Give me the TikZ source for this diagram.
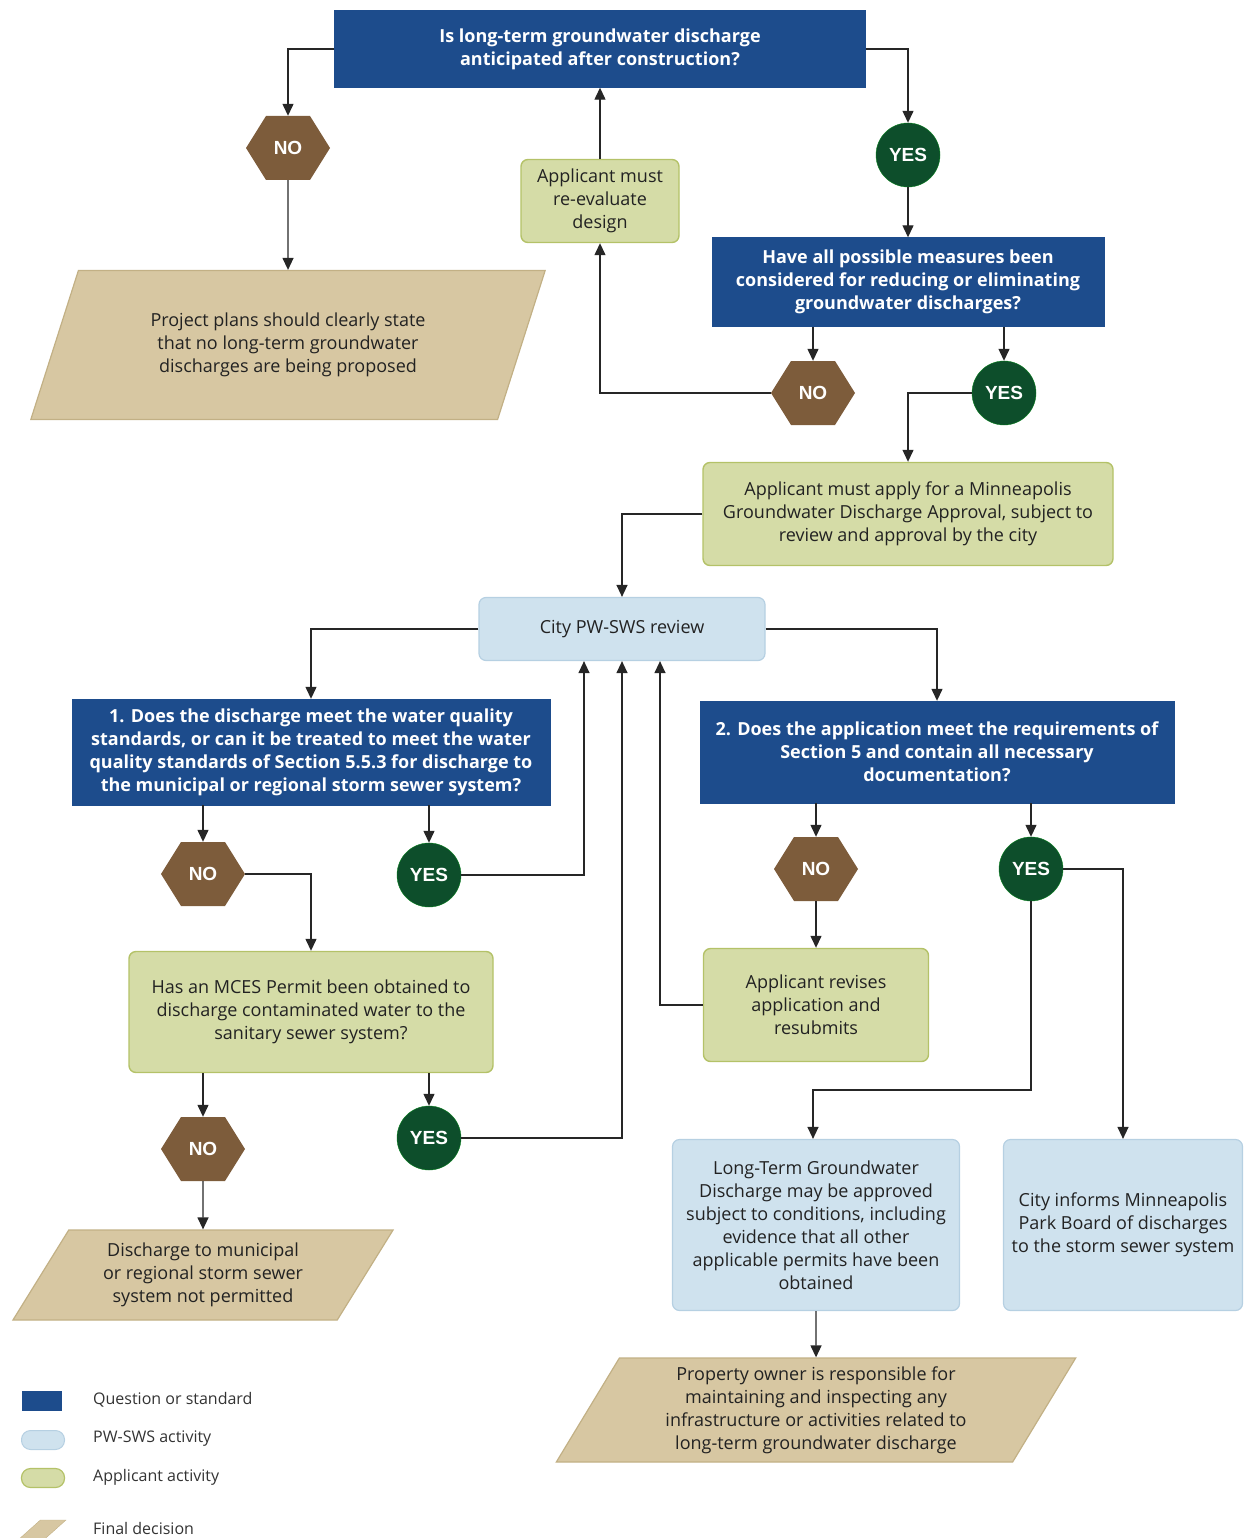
\documentclass[tikz,border=0pt]{standalone}
\usepackage{fontspec}
\setmainfont{Open Sans}
\newfontfamily\yesnofont{Liberation Sans}
\usetikzlibrary{shapes.geometric,shapes.symbols,arrows.meta}
\definecolor{qblue}{HTML}{1D4C8C}
\definecolor{swsfill}{HTML}{CFE2EE}
\definecolor{swsline}{HTML}{B6D0E2}
\definecolor{appfill}{HTML}{D5DCA7}
\definecolor{appline}{HTML}{B4C268}
\definecolor{tanfill}{HTML}{D7C7A2}
\definecolor{tanline}{HTML}{C2B085}
\definecolor{nobrown}{HTML}{7D5C3B}
\definecolor{yesgreen}{HTML}{0D4E2B}
\definecolor{inktext}{HTML}{222222}
\tikzset{
>={Triangle[length=12pt,width=11pt]}, % all arrows with filled triangle tips
flow/.style={->,line width=1.3pt,draw=black!85},
box text/.style={align=center,inner sep=0pt,text=inktext,font=\fontsize{18}{23}\selectfont},
question box/.style={box text,rectangle,draw=qblue,fill=qblue,text=white,font=\fontsize{18}{23}\selectfont\bfseries},
sws box/.style={box text,rectangle,rounded corners=7pt,draw=swsline,line width=1.2pt,fill=swsfill},
applicant box/.style={box text,rectangle,rounded corners=7pt,draw=appline,line width=1.4pt,fill=appfill},
final decision/.style={box text,trapezium,trapezium stretches=true,draw=tanline,line width=1.2pt,fill=tanfill},
no hex/.style={signal,signal to=east and west,signal pointer angle=116,minimum width=84pt,minimum height=64pt,
  inner sep=0pt,fill=nobrown,text=white,font=\yesnofont\fontsize{19}{19}\selectfont\bfseries},
yes circle/.style={circle,minimum size=64pt,inner sep=0pt,fill=yesgreen,draw=yesgreen!70!green,
  text=white,font=\yesnofont\fontsize{19}{19}\selectfont\bfseries},
legend text/.style={anchor=west,inner sep=0pt,text=black!80,font=\fontsize{16}{18}\selectfont},
}
\begin{document}
\begin{tikzpicture}[x=1pt,y=-1pt]
\useasboundingbox (0,0) rectangle (1248,1538);
% top question
\node[question box,minimum width=531pt,minimum height=77pt] (q0) at (600,49)
  {Is long-term groundwater discharge\\anticipated after construction?};
\node[no hex] (no0) at (288,148) {NO};
\node[final decision,minimum width=515pt,minimum height=149pt,trapezium left angle=64,trapezium right angle=116] (p1) at (288,345)
  {Project plans should clearly state\\that no long-term groundwater\\discharges are being proposed};
\node[applicant box,minimum width=158pt,minimum height=83pt] (reeval) at (600,201)
  {Applicant must\\re-evaluate\\design};
\node[yes circle] (yes0) at (908,155) {YES};
\node[question box,minimum width=392pt,minimum height=89pt] (q1) at (908,282)
  {Have all possible measures been\\considered for reducing or eliminating\\groundwater discharges?};
\node[no hex] (no1) at (813,393) {NO};
\node[yes circle] (yes1) at (1004,393) {YES};
\node[applicant box,minimum width=410pt,minimum height=103pt] (a1) at (908,514)
  {Applicant must apply for a Minneapolis\\Groundwater Discharge Approval, subject to\\review and approval by the city};
% city review and the two checks
\node[sws box,minimum width=286pt,minimum height=63pt] (city) at (622,629) {City PW-SWS review};
\node[question box,minimum width=478pt,minimum height=106pt] (qa) at (311,752)
  {1. Does the discharge meet the water quality\\standards, or can it be treated to meet the water\\quality standards of Section 5.5.3 for discharge to\\the municipal or regional storm sewer system?};
\node[question box,minimum width=474pt,minimum height=102pt] (qb) at (937,752)
  {2. Does the application meet the requirements of\\Section 5 and contain all necessary\\documentation?};
\node[no hex] (noa) at (203,874) {NO};
\node[yes circle] (yesa) at (429,875) {YES};
\node[applicant box,minimum width=364pt,minimum height=121pt] (mces) at (311,1012)
  {Has an MCES Permit been obtained to\\discharge contaminated water to the\\sanitary sewer system?};
\node[no hex] (nob) at (203,1149) {NO};
\node[yes circle] (yesb) at (429,1138) {YES};
\node[final decision,minimum width=381pt,minimum height=90pt,trapezium left angle=57,trapezium right angle=123] (p2) at (203,1275)
  {Discharge to municipal\\or regional storm sewer\\system not permitted};
\node[no hex] (nox) at (816,869) {NO};
\node[yes circle] (yesx) at (1031,869) {YES};
\node[applicant box,minimum width=225pt,minimum height=113pt] (revise) at (816,1005)
  {Applicant revises\\application and\\resubmits};
\node[sws box,minimum width=287pt,minimum height=171pt] (lt) at (816,1225)
  {Long-Term Groundwater\\Discharge may be approved\\subject to conditions, including\\evidence that all other\\applicable permits have been\\obtained};
\node[sws box,minimum width=239pt,minimum height=171pt] (park) at (1123,1225)
  {City informs Minneapolis\\Park Board of discharges\\to the storm sewer system};
\node[final decision,minimum width=522pt,minimum height=104pt,trapezium left angle=61,trapezium right angle=119] (p3) at (816,1410)
  {Property owner is responsible for\\maintaining and inspecting any\\infrastructure or activities related to\\long-term groundwater discharge};
% connectors
\draw[flow] (q0.west) -| (no0.north);
\draw[flow] (no0.south) -- (p1.north);
\draw[flow] (reeval.north) -- (q0.south);
\draw[flow] (q0.east) -| (yes0.north);
\draw[flow] (yes0.south) -- (q1.north);
\draw[flow] (q1.south -| no1) -- (no1.north);
\draw[flow] (q1.south -| yes1) -- (yes1.north);
\draw[flow] (no1.west) -| (reeval.south);
\draw[flow] (yes1.west) -| (a1.north);
\draw[flow] (a1.west) -| (city.north);
\draw[flow] (city.west) -| (qa.north);
\draw[flow] (city.east) -| (qb.north);
\draw[flow] (qa.south -| noa) -- (noa.north);
\draw[flow] (qa.south -| yesa) -- (yesa.north);
\draw[flow] (yesa.east) -| ([xshift=-38pt]city.south);
\draw[flow] (noa.east) -| (mces.north);
\draw[flow] (mces.south -| nob) -- (nob.north);
\draw[flow] (mces.south -| yesb) -- (yesb.north);
\draw[flow] (yesb.east) -| (city.south);
\draw[flow] (nob.south) -- (p2.north);
\draw[flow] (qb.south -| nox) -- (nox.north);
\draw[flow] (qb.south -| yesx) -- (yesx.north);
\draw[flow] (nox.south) -- (revise.north);
\draw[flow] (revise.west) -| ([xshift=38pt]city.south);
\draw[flow] (yesx.south) |- ([xshift=-3pt,yshift=49pt]lt.north) -- ([xshift=-3pt]lt.north);
\draw[flow] (yesx.east) -| (park.north);
\draw[flow] (lt.south) -- (p3.north);
% legend
\node[rectangle,fill=qblue,minimum width=40pt,minimum height=20pt,inner sep=0pt] (key q) at (42,1401) {};
\node[rectangle,rounded corners=9pt,fill=swsfill,draw=swsline,line width=1pt,minimum width=43pt,minimum height=19pt,inner sep=0pt] (key sws) at (43,1440) {};
\node[rectangle,rounded corners=9pt,fill=appfill,draw=appline,line width=1.2pt,minimum width=43pt,minimum height=19pt,inner sep=0pt] (key app) at (43,1478) {};
\node[trapezium,trapezium stretches=true,trapezium left angle=45,trapezium right angle=135,fill=tanfill,draw=tanline,
  minimum width=48pt,minimum height=20pt,inner sep=1pt] (key fin) at (42,1530) {\strut};
\node[legend text] (lab q) at (93,1400) {Question or standard};
\node[legend text] (lab sws) at (93,1439) {PW-SWS activity};
\node[legend text] (lab app) at (93,1477) {Applicant activity};
\node[legend text] (lab fin) at (93,1528) {Final decision};
\end{tikzpicture}
\end{document}
